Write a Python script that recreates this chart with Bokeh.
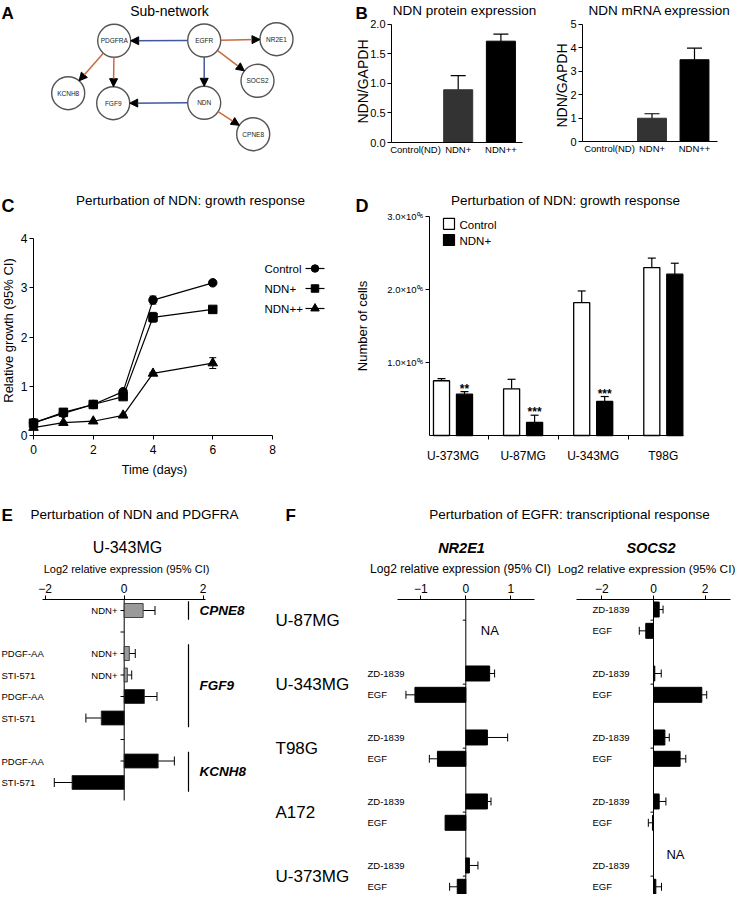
import math
from bokeh.plotting import figure
from bokeh.models import (Range1d, FixedTicker, Label, Arrow, NormalHead, TeeHead,
                          Whisker, ColumnDataSource, PrintfTickFormatter)
from bokeh.layouts import row, column
from bokeh.embed import file_html
from bokeh.resources import INLINE
from bokeh.core.properties import value

FONT = "Liberation Sans"
NAN = float("nan")

# ---------------- A: sub-network ----------------
node_names = ["PDGFRA", "EGFR", "NR2E1", "SOCS2", "KCNH8", "FGF9", "NDN", "CPNE8"]
node_x = [121.7, 211.7, 284.0, 265.0, 75.7, 120.7, 211.7, 260.7]
node_y = [48.3, 48.0, 46.7, 88.3, 100.7, 110.7, 110.3, 141.7]
edge_src = ["EGFR", "EGFR", "EGFR", "EGFR", "PDGFRA", "PDGFRA", "NDN", "NDN"]
edge_dst = ["PDGFRA", "NR2E1", "SOCS2", "NDN", "KCNH8", "FGF9", "FGF9", "CPNE8"]
edge_kind = ["blue", "orange", "orange", "blue", "orange", "orange", "blue", "orange"]

# ---------------- B: NDN expression ----------------
b_groups = ["Control(ND)", "NDN+", "NDN++"]
protein_mean = [0.0, 0.89, 1.71]
protein_err = [0.0, 0.24, 0.12]
mrna_mean = [0.0, 0.99, 3.48]
mrna_err = [0.0, 0.19, 0.49]

# ---------------- C: growth curves ----------------
days = [0, 1, 2, 3, 4, 6]
growth_control = [0.26, 0.45, 0.63, 0.89, 2.75, 3.10]
growth_control_err = [0.02, 0.02, 0.02, 0.03, 0.08, 0.03]
growth_ndn1 = [0.25, 0.47, 0.63, 0.79, 2.40, 2.56]
growth_ndn1_err = [0.02, 0.02, 0.02, 0.03, 0.10, 0.05]
growth_ndn2 = [0.16, 0.26, 0.29, 0.41, 1.26, 1.47]
growth_ndn2_err = [0.01, 0.01, 0.01, 0.02, 0.02, 0.11]
c_series = ["Control", "NDN+", "NDN++"]

# ---------------- D: number of cells ----------------
d_lines = ["U-373MG", "U-87MG", "U-343MG", "T98G"]
cells_control = [0.75e6, 0.64e6, 1.82e6, 2.30e6]
cells_control_err = [0.03e6, 0.13e6, 0.16e6, 0.13e6]
cells_ndn = [0.566e6, 0.178e6, 0.466e6, 2.21e6]
cells_ndn_err = [0.034e6, 0.10e6, 0.068e6, 0.15e6]
cells_sig = ["**", "***", "***", ""]

# ---------------- E: NDN / PDGFRA perturbation ----------------
e_gene = ["CPNE8", "FGF9", "FGF9", "FGF9", "FGF9", "KCNH8", "KCNH8"]
e_treatment = ["", "PDGF-AA", "STI-571", "PDGF-AA", "STI-571", "PDGF-AA", "STI-571"]
e_ndn = ["NDN+", "NDN+", "NDN+", "", "", "", ""]
e_value = [0.48, 0.13, 0.08, 0.51, -0.58, 0.86, -1.32]
e_err = [0.30, 0.15, 0.11, 0.32, 0.39, 0.41, 0.45]

# ---------------- F: EGFR perturbation ----------------
f_lines = ["U-87MG", "U-343MG", "T98G", "A172", "U-373MG"]
f_treat = ["ZD-1839", "EGF"]
nr2e1_zd = [NAN, 0.53, 0.48, 0.48, 0.08]
nr2e1_zd_err = [NAN, 0.11, 0.45, 0.08, 0.19]
nr2e1_egf = [NAN, -1.13, -0.63, -0.46, -0.19]
nr2e1_egf_err = [NAN, 0.20, 0.18, 0.0, 0.17]
socs2_zd = [0.22, 0.05, 0.44, 0.22, NAN]
socs2_zd_err = [0.15, 0.25, 0.17, 0.26, NAN]
socs2_egf = [-0.30, 1.87, 1.03, -0.04, 0.09]
socs2_egf_err = [0.25, 0.19, 0.22, 0.16, 0.22]


# ---------------- helpers ----------------
def make_panel(box, xmap, ymap, xloc=None, yloc=None):
    """box: canvas in reference px; xmap=(px of x=0, px per unit);
    ymap=(px of y=0, px per unit upward; negative = downward)."""
    bx0, by0, bx1, by1 = box
    px0, sx = xmap
    py0, sy = ymap

    def X(px):
        return (px - px0) / sx

    def Y(py):
        return (py0 - py) / sy
    p = figure(width=bx1 - bx0, height=by1 - by0,
               x_range=Range1d(X(bx0), X(bx1)), y_range=Range1d(Y(by1), Y(by0)),
               x_axis_location=xloc, y_axis_location=yloc,
               output_backend="svg", toolbar_location=None, tools="",
               min_border=0, min_border_left=0, min_border_right=0,
               min_border_top=0, min_border_bottom=0)
    p.outline_line_color = None
    p.background_fill_color = "white"
    p.border_fill_color = "white"
    p.grid.visible = False
    return p, X, Y


def add_label(p, x, y, text, size, align="left", baseline="middle", style="normal", angle=0.0):
    p.add_layout(Label(x=x, y=y, text=text, text_font=FONT, text_font_size=f"{size}px",
                       text_align=align, text_baseline=baseline, text_font_style=style,
                       text_color="black", angle=angle))


def style_axis(ax, size, tick_out=4, standoff=2):
    ax.axis_line_color = "black"
    ax.axis_line_width = 1
    ax.major_tick_line_color = "black" if tick_out > 0 else None
    ax.major_tick_out = tick_out
    ax.major_tick_in = 0
    ax.minor_tick_line_color = None
    ax.major_label_text_font = FONT
    ax.major_label_text_font_size = f"{size}px"
    ax.major_label_text_color = "black"
    ax.major_label_standoff = standoff


# ================= A =================
pA, XA, YA = make_panel((8, 8, 350, 180), (0, 1), (0, -1))
edge_color = {"blue": "#41589e", "orange": "#c86b3e"}
R = 16.5
pos = {n: (x, y) for n, x, y in zip(node_names, node_x, node_y)}
for s, d, k in zip(edge_src, edge_dst, edge_kind):
    x0, y0 = pos[s]
    x1, y1 = pos[d]
    L = math.hypot(x1 - x0, y1 - y0)
    ux, uy = (x1 - x0) / L, (y1 - y0) / L
    pA.add_layout(Arrow(end=NormalHead(size=8, fill_color="black", line_color="black", line_width=1),
                        x_start=XA(x0 + ux * R), y_start=YA(y0 + uy * R),
                        x_end=XA(x1 - ux * R), y_end=YA(y1 - uy * R),
                        line_color=edge_color[k], line_width=1.5))
nx_ = [XA(v) for v in node_x]
ny_ = [YA(v) for v in node_y]
pA.scatter(nx_, ny_, size=2 * R, marker="circle", fill_color="white",
           line_color="#555555", line_width=1.4)
pA.text(nx_, ny_, text=node_names, text_font=value(FONT), text_font_size="6.5px",
        text_align="center", text_baseline="middle", text_color="#222222")
add_label(pA, XA(9), YA(21), "A", 17, baseline="alphabetic", style="bold")
add_label(pA, XA(177), YA(18), "Sub-network", 14, align="center", baseline="alphabetic")


# ================= B =================
def b_panel(box, c0, sp, axis_x, axis_y, x_end, ymax, yticks, fmt, means, errs,
            title, title_cx, ylab_x, ylab_y):
    ppu = (axis_y - 31.5) / ymax
    p, X, Y = make_panel(box, (c0, sp), (axis_y, ppu), xloc="below", yloc="left")
    xa, ya = p.xaxis[0], p.yaxis[0]
    style_axis(xa, 9.5, tick_out=0, standoff=1)
    xa.fixed_location = 0
    xa.bounds = (X(axis_x), X(x_end))
    xa.ticker = FixedTicker(ticks=list(range(len(b_groups))))
    xa.major_label_overrides = {i: g for i, g in enumerate(b_groups)}
    style_axis(ya, 11, tick_out=4, standoff=2)
    ya.fixed_location = X(axis_x)
    ya.bounds = (0, ymax)
    ya.ticker = FixedTicker(ticks=yticks)
    ya.formatter = PrintfTickFormatter(format=fmt)
    colors = ["white", "#333333", "black"]
    idx = [i for i, m in enumerate(means) if m > 0]
    src = ColumnDataSource(dict(x=idx, top=[means[i] for i in idx],
                                up=[means[i] + errs[i] for i in idx],
                                c=[colors[i] for i in idx]))
    p.vbar(x="x", top="top", width=0.68, source=src, fill_color="c", line_color="c")
    p.add_layout(Whisker(source=src, base="x", lower="top", upper="up", dimension="height",
                         lower_head=None, upper_head=TeeHead(size=15, line_width=1.2),
                         line_width=1.2))
    add_label(p, X(title_cx), Y(18), title, 13.5, align="center", baseline="alphabetic")
    add_label(p, X(ylab_x), Y(ylab_y), "NDN/GAPDH", 14, align="center", angle=math.pi / 2)
    return p, X, Y


pB1, XB1, YB1 = b_panel((350, 8, 552, 180), 423.0, 42.7, 399, 150, 530, 2.0,
                        [0, 0.5, 1.0, 1.5, 2.0], "%.1f", protein_mean, protein_err,
                        "NDN protein expression", 472, 370, 89)
add_label(pB1, XB1(363), YB1(21), "B", 17, baseline="alphabetic", style="bold")
pB2, XB2, YB2 = b_panel((552, 8, 744, 180), 617.0, 42.5, 590, 149, 725, 5.0,
                        [0, 1, 2, 3, 4, 5], "%d", mrna_mean, mrna_err,
                        "NDN mRNA expression", 667, 569, 93)

# ================= C =================
pC, XC, YC = make_panel((8, 180, 360, 500), (41.0, 29.875), (443.0, 49.25),
                        xloc="below", yloc="left")
style_axis(pC.xaxis[0], 12, tick_out=4, standoff=5)
pC.xaxis[0].fixed_location = 0
pC.xaxis[0].ticker = FixedTicker(ticks=[0, 2, 4, 6, 8])
pC.xaxis[0].bounds = (0, 8)
style_axis(pC.yaxis[0], 12, tick_out=4, standoff=2)
pC.yaxis[0].fixed_location = 0
pC.yaxis[0].ticker = FixedTicker(ticks=[0, 1, 2, 3, 4])
pC.yaxis[0].bounds = (0, 4)

c_data = [(growth_control, growth_control_err, "circle", 8.5),
          (growth_ndn1, growth_ndn1_err, "square", 8.5),
          (growth_ndn2, growth_ndn2_err, "triangle", 9.5)]
legend_y = [276, 296, 316]
for (vals, errs, mk, sz), name, ly in zip(c_data, c_series, legend_y):
    src = ColumnDataSource(dict(x=days, y=vals, lo=[v - e for v, e in zip(vals, errs)],
                                hi=[v + e for v, e in zip(vals, errs)]))
    pC.line("x", "y", source=src, line_color="black", line_width=1.2)
    pC.add_layout(Whisker(source=src, base="x", lower="lo", upper="hi", dimension="height",
                          lower_head=TeeHead(size=7, line_width=1), upper_head=TeeHead(size=7, line_width=1),
                          line_width=1))
    pC.scatter("x", "y", source=src, marker=mk, size=sz, fill_color="black", line_color="black")
    # legend entry (label left, key right)
    add_label(pC, XC(272), YC(ly), name, 11.5)
    pC.line([XC(313), XC(332)], [YC(ly), YC(ly)], line_color="black", line_width=1.2)
    pC.scatter([XC(322.5)], [YC(ly)], marker=mk, size=sz - 1, fill_color="black", line_color="black")

add_label(pC, XC(16), YC(338), "Relative growth (95% CI)", 13, align="center", angle=math.pi / 2)
add_label(pC, XC(162), YC(477), "Time (days)", 12.5, align="center")
add_label(pC, XC(198), YC(208), "Perturbation of NDN: growth response", 13.5, align="center", baseline="alphabetic")
add_label(pC, XC(9), YC(213), "C", 18, baseline="alphabetic", style="bold")

# ================= D =================
pD, XD, YD = make_panel((360, 180, 744, 500), (460.5, 70.1), (443.0, 73.0e-6),
                        xloc="below", yloc="left")
xa, ya = pD.xaxis[0], pD.yaxis[0]
style_axis(xa, 12, tick_out=0, standoff=9)
xa.fixed_location = 0
xa.bounds = (XD(437), XD(691))
xa.ticker = FixedTicker(ticks=list(range(len(d_lines))),
                        minor_ticks=[i + 0.5 for i in range(len(d_lines) - 1)])
xa.minor_tick_line_color = "black"
xa.minor_tick_out = 4
xa.minor_tick_in = 0
xa.major_label_overrides = {i: n for i, n in enumerate(d_lines)}
style_axis(ya, 9.5, tick_out=4, standoff=2)
ya.fixed_location = XD(437)
ya.bounds = (0, 3e6)
ya.ticker = FixedTicker(ticks=[1e6, 2e6, 3e6])
ya.major_label_overrides = {1000000: "1.0\u00d710\u2070\u2076",
                            2000000: "2.0\u00d710\u2070\u2076",
                            3000000: "3.0\u00d710\u2070\u2076"}
OFF, BW = 0.164, 0.229
gi = list(range(len(d_lines)))
src_c = ColumnDataSource(dict(x=[g - OFF for g in gi], top=cells_control,
                              up=[v + e for v, e in zip(cells_control, cells_control_err)]))
src_n = ColumnDataSource(dict(x=[g + OFF for g in gi], top=cells_ndn,
                              up=[v + e for v, e in zip(cells_ndn, cells_ndn_err)], sig=cells_sig))
for src in (src_c, src_n):
    pD.add_layout(Whisker(source=src, base="x", lower="top", upper="up", dimension="height",
                          lower_head=None, upper_head=TeeHead(size=8, line_width=1.2), line_width=1.2))
pD.vbar(x="x", top="top", width=BW, source=src_c, fill_color="white", line_color="black", line_width=1.3)
pD.vbar(x="x", top="top", width=BW, source=src_n, fill_color="black", line_color="black", line_width=1.3)
pD.text(x="x", y="up", text="sig", source=src_n, text_font=value(FONT), text_font_size="12px",
        text_font_style="bold", text_align="center", text_baseline="bottom", y_offset=4)
pD.rect(x=[XD(456.5), XD(456.5)], y=[YD(231.3), YD(247.5)], width=11, height=11,
        width_units="screen", height_units="screen", fill_color=["white", "black"],
        line_color="black", line_width=1.2)
add_label(pD, XD(467), YD(232), "Control", 11.5)
add_label(pD, XD(467), YD(248.5), "NDN+", 11.5)
add_label(pD, XD(370), YD(333.5), "Number of cells", 13, align="center", angle=math.pi / 2)
add_label(pD, XD(573), YD(208), "Perturbation of NDN: growth response", 13.5, align="center", baseline="alphabetic")
add_label(pD, XD(363), YD(213), "D", 18, baseline="alphabetic", style="bold")

# ================= E =================
EP = 21.5
pE, XE, YE = make_panel((8, 500, 280, 902), (131.7, 39.5), (618.0, -EP), xloc="above")
xa = pE.xaxis[0]
style_axis(xa, 12, tick_out=4, standoff=3)
xa.fixed_location = YE(607)
xa.ticker = FixedTicker(ticks=[-2, 0, 2])
xa.bounds = (XE(50), XE(213))
pE.segment(x0=[0], y0=[YE(607)], x1=[0], y1=[YE(808)], line_color="black", line_width=1)

slots, s, prev = [], -1, None
for g in e_gene:
    s += 2 if (prev is not None and g != prev) else 1
    slots.append(s)
    prev = g
e_fill = ["#9a9a9a" if n else "black" for n in e_ndn]
src_e = ColumnDataSource(dict(y=slots, v=e_value, c=e_fill,
                              end=[v + math.copysign(e, v) for v, e in zip(e_value, e_err)]))
pE.hbar(y="y", left=0, right="v", height=14 / EP, source=src_e, fill_color="c",
        line_color="#222222", line_width=0.8)
pE.add_layout(Whisker(source=src_e, base="y", lower="v", upper="end", dimension="width",
                      lower_head=None, upper_head=TeeHead(size=9, line_width=1), line_width=1))
all_rows = list(range(max(slots) + 1))
pE.segment(x0=[XE(128)] * len(all_rows), y0=all_rows, x1=[0] * len(all_rows), y1=all_rows,
           line_color="black", line_width=1)
pE.text(x=[XE(9)] * len(slots), y=slots, text=e_treatment, text_font=value(FONT),
        text_font_size="9.5px", text_align="left", text_baseline="middle")
pE.text(x=[XE(125)] * len(slots), y=slots, text=e_ndn, text_font=value(FONT),
        text_font_size="9.5px", text_align="right", text_baseline="middle")
for gname in dict.fromkeys(e_gene):
    rr = [sl for sl, g in zip(slots, e_gene) if g == gname]
    y0, y1 = min(rr) - 0.43, max(rr) + 0.43
    pE.segment(x0=[XE(196)], y0=[y0], x1=[XE(196)], y1=[y1], line_color="black", line_width=1.2)
    pE.text(x=[XE(207)], y=[(y0 + y1) / 2], text=[gname], text_font=value(FONT),
            text_font_size="13.5px", text_font_style="bold italic", text_align="left",
            text_baseline="middle")
add_label(pE, XE(135), YE(555), "U-343MG", 16, align="center", baseline="alphabetic")
add_label(pE, XE(134), YE(576.5), "Log2 relative expression (95% CI)", 11, align="center", baseline="alphabetic")
add_label(pE, XE(142), YE(522), "Perturbation of NDN and PDGFRA", 13.5, align="center", baseline="alphabetic")
add_label(pE, XE(9), YE(523), "E", 17, baseline="alphabetic", style="bold")

# ================= F =================
pFt, XFt, YFt = make_panel((280, 500, 744, 540), (0, 1), (0, -1))
add_label(pFt, XFt(577), YFt(522), "Perturbation of EGFR: transcriptional response", 13.5,
          align="center", baseline="alphabetic")
add_label(pFt, XFt(293), YFt(523), "F", 17, baseline="alphabetic", style="bold")

FP = 21.33


def f_panel(box, zero_px, ppu, axis_px, ticks, gene, zd, zd_err, egf, egf_err,
            header_cx, log_cx, log_size, treat_px, na_dx, na_drow, with_lines):
    p, X, Y = make_panel(box, (zero_px, ppu), (617.0, -FP), xloc="above")
    ax = p.xaxis[0]
    style_axis(ax, 12, tick_out=4, standoff=3)
    ax.fixed_location = Y(607)
    ax.bounds = (X(axis_px[0]), X(axis_px[1]))
    ax.ticker = FixedTicker(ticks=ticks)
    ax.major_label_overrides = {t: ("\u2212" + str(abs(t)) if t < 0 else str(t)) for t in ticks}
    p.segment(x0=[0], y0=[Y(607)], x1=[0], y1=[Y(902)], line_color="black", line_width=1)
    ys, vals, errs = [], [], []
    tx, ty, tt = [], [], []
    nx, ny = [], []
    for g in range(len(f_lines)):
        pair = ((zd[g], zd_err[g]), (egf[g], egf_err[g]))
        for k, (v, e) in enumerate(pair):
            if not math.isnan(v):
                ys.append(3 * g + k)
                vals.append(v)
                errs.append(e)
        if not all(math.isnan(v) for v, _ in pair):
            tx += [X(treat_px)] * 2
            ty += [3 * g, 3 * g + 1]
            tt += f_treat
        if any(math.isnan(v) for v, _ in pair):
            nx.append(X(zero_px + na_dx))
            ny.append(3 * g + na_drow)
    src = ColumnDataSource(dict(y=ys, v=vals))
    p.hbar(y="y", left=0, right="v", height=15 / FP, source=src, fill_color="black", line_color="black")
    wi = [i for i, e in enumerate(errs) if e > 0]
    wsrc = ColumnDataSource(dict(y=[ys[i] for i in wi], v=[vals[i] for i in wi],
                                 end=[vals[i] + math.copysign(errs[i], vals[i]) for i in wi]))
    p.add_layout(Whisker(source=wsrc, base="y", lower="v", upper="end", dimension="width",
                         lower_head=None, upper_head=TeeHead(size=8, line_width=1), line_width=1))
    mids = [3 * g + 0.5 for g in range(len(f_lines))]
    p.segment(x0=[X(zero_px - 3)] * len(mids), y0=mids, x1=[0] * len(mids), y1=mids,
              line_color="black", line_width=1)
    p.text(x=tx, y=ty, text=tt, text_font=value(FONT), text_font_size="9.5px",
           text_align="left", text_baseline="middle")
    p.text(x=nx, y=ny, text=["NA"] * len(nx), text_font=value(FONT), text_font_size="13px",
           text_align="center", text_baseline="middle")
    if with_lines:
        p.text(x=[X(283)] * len(f_lines), y=mids, text=f_lines, text_font=value(FONT),
               text_font_size="17px", text_align="left", text_baseline="middle")
    add_label(p, X(header_cx), Y(555), gene, 14.5, align="center", baseline="alphabetic", style="bold italic")
    add_label(p, X(log_cx), Y(576.5), "Log2 relative expression (95% CI)", log_size,
              align="center", baseline="alphabetic")
    return p


pF1 = f_panel((280, 540, 560, 902), 473.3, 45.0, (405, 542), [-1, 0, 1], "NR2E1",
              nr2e1_zd, nr2e1_zd_err, nr2e1_egf, nr2e1_egf_err,
              469, 468, 12, 375, 24, 1.0, True)
pF2 = f_panel((560, 540, 744, 902), 661.0, 25.83, (584, 738), [-2, 0, 2], "SOCS2",
              socs2_zd, socs2_zd_err, socs2_egf, socs2_egf_err,
              658.5, 654, 11.8, 600, 22, -0.5, False)

layout = column(row(pA, pB1, pB2), row(pC, pD), row(pE, column(pFt, row(pF1, pF2))))
open("out.html", "w").write(file_html(layout, INLINE))
